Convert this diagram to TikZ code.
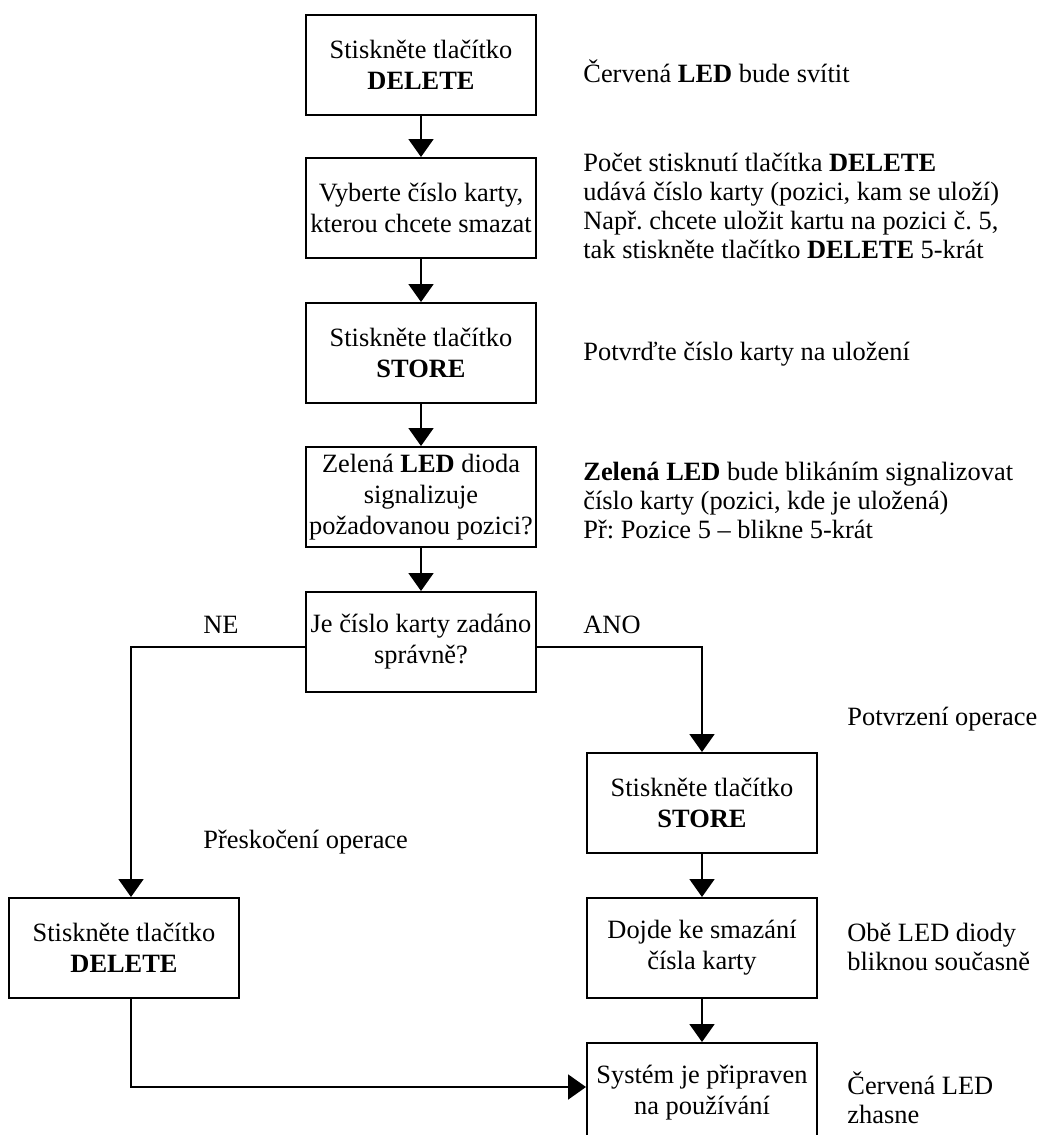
\documentclass[tikz,border=0pt]{standalone}
\usepackage{fontspec}
\setmainfont{Liberation Serif}
\usetikzlibrary{arrows.meta}
\frenchspacing
\begin{document}
\begin{tikzpicture}
[x=0.5pt,y=-0.5pt,
  boxdecorate/.style={shape=rectangle,draw,line width=1pt,minimum width=115pt,
    minimum height=50pt,inner sep=0pt,align=center,
    font=\fontsize{13.2pt}{15.5pt}\selectfont},
  notedecorate/.style={anchor=base west,inner sep=0pt,align=left,
    font=\fontsize{13.2pt}{14.5pt}\selectfont},
  linedecorate/.style={line width=1pt,-{Triangle[length=9pt,width=12.5pt]}}]
\useasboundingbox (0,0) rectangle (1044,1135);
%% boxes
\foreach \nodename/\x/\y/\nodetext in {
  delete/421/65/{Stiskněte tlačítko\\\textbf{DELETE}},
  select/421/208/{Vyberte číslo karty,\\kterou chcete smazat},
  store/421/353/{Stiskněte tlačítko\\\textbf{STORE}},
  signal/421/497/{Zelená \textbf{LED} dioda\\signalizuje\\požadovanou pozici?},
  check/421/642/{Je číslo karty zadáno\\správně?},
  confirm/702/803/{Stiskněte tlačítko\\\textbf{STORE}},
  erase/702/948/{Dojde ke smazání\\čísla karty},
  ready/702/1093/{Systém je připraven\\na používání},
  skip/124/948/{Stiskněte tlačítko\\\textbf{DELETE}}} {
  \node (\nodename) at (\x,\y) [boxdecorate] {\nodetext};
}
%% notes (base = last line)
\node (n1) at (583,82) [notedecorate] {Červená \textbf{LED} bude svítit};
\node (n2) at (583,258) [notedecorate] {Počet stisknutí tlačítka \textbf{DELETE}\\
  udává číslo karty (pozici, kam se uloží)\\
  Např. chcete uložit kartu na pozici č. 5,\\
  tak stiskněte tlačítko \textbf{DELETE} 5-krát};
\node (n3) at (583,360) [notedecorate] {Potvrďte číslo karty na uložení};
\node (n4) at (583,538) [notedecorate] {\textbf{Zelená LED} bude blikáním signalizovat\\
  číslo karty (pozici, kde je uložená)\\
  Př: Pozice 5 – blikne 5-krát};
\node (no) at (203,633) [notedecorate] {NE};
\node (yes) at (583,633) [notedecorate] {ANO};
\node (n5) at (847,725) [notedecorate] {Potvrzení operace};
\node (n6) at (203,848) [notedecorate] {Přeskočení operace};
\node (n7) at (847,970) [notedecorate] {Obě LED diody\\bliknou současně};
\node (n8) at (847,1123) [notedecorate] {Červená LED\\zhasne};
%% edges
\path
\foreach \startnode/\endnode in {delete/select, select/store, store/signal,
  signal/check, confirm/erase, erase/ready} {
  (\startnode) edge[linedecorate] (\endnode)
};
\draw[linedecorate] ([yshift=-2.5pt]check.west) -| ([xshift=3.5pt]skip.north);
\draw[linedecorate] ([yshift=-2.5pt]check.east) -| (confirm.north);
\draw[linedecorate] ([xshift=3.5pt]skip.south) |- ([yshift=3pt]ready.west);
\end{tikzpicture}
\end{document}
